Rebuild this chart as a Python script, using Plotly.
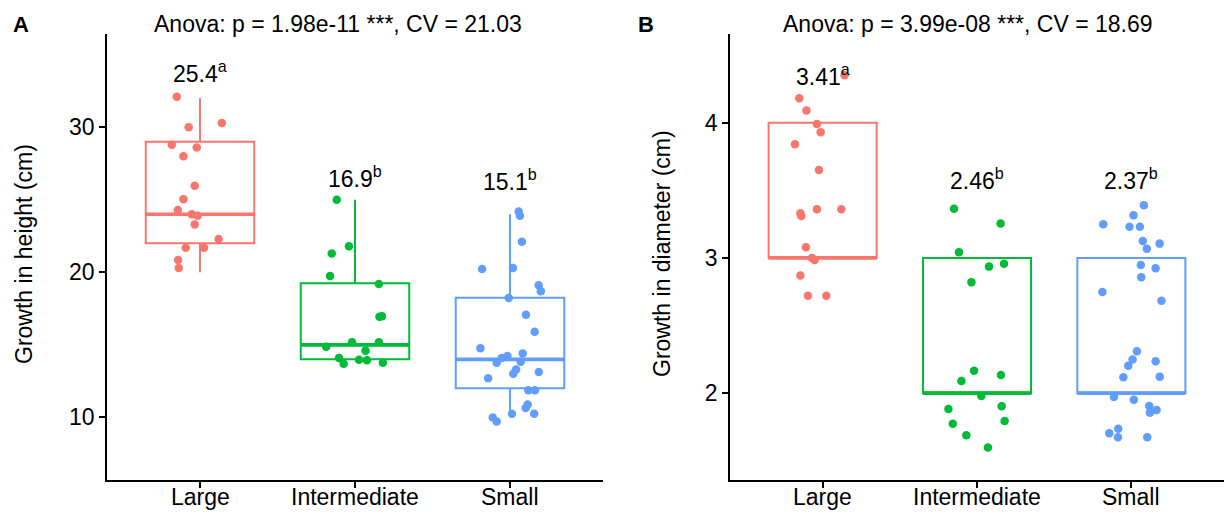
import plotly.graph_objects as go

# ---------------- data ----------------
categories = ["Large", "Intermediate", "Small"]

# Panel A: growth in height (cm), plotted (jittered) values
height_large = [32.1, 30.0, 30.3, 28.8, 28.6, 28.0, 25.96, 25.04, 24.3, 24.0, 23.9, 23.3, 22.3, 21.7, 21.7, 20.85, 20.3]
height_large_jit = [-0.15, -0.073, 0.141, -0.182, -0.021, -0.107, -0.034, -0.107, -0.143, -0.053, -0.015, -0.034, 0.12, -0.092, 0.026, -0.141, -0.137]
height_inter = [25.0, 21.8, 21.3, 19.75, 19.2, 16.93, 16.97, 14.87, 15.17, 15.17, 14.6, 14.1, 13.7, 13.97, 13.93, 13.77]
height_inter_jit = [-0.118, -0.039, -0.150, -0.161, 0.154, 0.158, 0.174, -0.186, -0.019, 0.154, 0.068, -0.103, -0.073, 0.026, 0.077, 0.18]
height_small = [24.19, 23.9, 22.1, 20.23, 20.3, 19.1, 18.7, 18.23, 17.07, 15.9, 14.76, 14.23, 14.1, 14.4, 13.77, 13.84, 13.3, 13.0, 13.13, 12.7, 11.87, 11.87, 10.88, 10.65, 10.24, 10.24, 9.99, 9.71]
height_small_jit = [0.056, 0.064, 0.077, -0.18, 0.019, 0.185, 0.199, -0.008, 0.103, 0.159, -0.191, -0.017, -0.053, 0.082, -0.086, 0.069, 0.039, 0.021, 0.186, -0.141, 0.118, 0.161, 0.114, 0.101, 0.013, 0.156, -0.111, -0.086]

# box statistics (lower whisker, q1, median, q3, upper whisker)
height_box = {
    "Large": [20, 22, 24, 29, 32],
    "Intermediate": [14, 14, 15, 19.25, 25],
    "Small": [10, 12, 14, 18.25, 24],
}
height_means = ["25.4", "16.9", "15.1"]
height_letters = ["a", "b", "b"]

# Panel B: growth in diameter (cm)
diam_large = [4.35, 4.18, 4.09, 3.99, 3.93, 3.84, 3.65, 3.33, 3.31, 3.36, 3.36, 3.08, 3.0, 2.985, 2.87, 2.72, 2.72]
diam_large_jit = [0.142, -0.151, -0.105, -0.037, -0.013, -0.179, -0.024, -0.144, -0.138, -0.037, 0.121, -0.108, -0.069, -0.052, -0.144, -0.095, 0.024]
diam_inter = [3.364, 3.254, 3.042, 2.936, 2.958, 2.82, 2.167, 2.09, 2.135, 1.98, 1.884, 1.904, 1.775, 1.795, 1.69, 1.60]
diam_inter_jit = [-0.149, 0.153, -0.117, 0.078, 0.175, -0.036, -0.019, -0.101, 0.155, 0.028, -0.185, 0.16, -0.157, 0.179, -0.069, 0.071]
diam_small = [3.39, 3.315, 3.25, 3.23, 3.23, 3.126, 3.106, 3.069, 2.948, 2.924, 2.857, 2.749, 2.684, 2.31, 2.25, 2.204, 2.236, 2.118, 2.123, 1.973, 1.953, 1.906, 1.877, 1.857, 1.738, 1.704, 1.675, 1.675]
diam_small_jit = [0.081, 0.014, -0.182, -0.012, 0.055, 0.074, 0.183, 0.1, 0.061, 0.157, 0.064, -0.188, 0.195, 0.036, 0.008, -0.02, 0.157, -0.052, 0.184, -0.113, 0.016, 0.116, 0.163, 0.12, -0.085, -0.143, -0.087, 0.103]

diam_box = {
    "Large": [3, 3, 3, 4, 4],
    "Intermediate": [2, 2, 2, 3, 3],
    "Small": [2, 2, 2, 3, 3],
}
diam_means = ["3.41", "2.46", "2.37"]
diam_letters = ["a", "b", "b"]

titles = ["Anova: p = 1.98e-11 ***, CV = 21.03", "Anova: p = 3.99e-08 ***, CV = 18.69"]
y_titles = ["Growth in height (cm)", "Growth in diameter (cm)"]

# ---------------- style ----------------
colors = ["#F8766D", "#00BA38", "#619CFF"]
FONT = "Liberation Sans, Arial, sans-serif"
FS = 23
BOX_W = 0.7
W, H = 1227, 515

fig = go.Figure()

panels = [
    ("x", "y", [height_large, height_inter, height_small],
     [height_large_jit, height_inter_jit, height_small_jit], height_box, height_means, height_letters),
    ("x2", "y2", [diam_large, diam_inter, diam_small],
     [diam_large_jit, diam_inter_jit, diam_small_jit], diam_box, diam_means, diam_letters),
]

label_pos = [[33.74, 26.48, 26.32], [4.345, 3.577, 3.577]]

for p, (xa, ya, vals, jits, box, means, letters) in enumerate(panels):
    for i, cat in enumerate(categories):
        pos = i + 1
        lo, q1, med, q3, hi = box[cat]
        fig.add_trace(go.Box(
            x=[pos], q1=[q1], median=[med], q3=[q3], lowerfence=[lo], upperfence=[hi],
            width=BOX_W, whiskerwidth=0, boxpoints=False,
            line=dict(color=colors[i], width=2), fillcolor="rgba(255,255,255,0)",
            xaxis=xa, yaxis=ya, showlegend=False, hoverinfo="skip",
        ))
        # thick median (ggplot fatten)
        fig.add_trace(go.Scatter(
            x=[pos - BOX_W / 2, pos + BOX_W / 2], y=[med, med], mode="lines",
            line=dict(color=colors[i], width=3.6), xaxis=xa, yaxis=ya,
            showlegend=False, hoverinfo="skip",
        ))
    for i, cat in enumerate(categories):
        pos = i + 1
        fig.add_trace(go.Scatter(
            x=[pos + j for j in jits[i]], y=vals[i], mode="markers",
            marker=dict(color=colors[i], size=8.5, line=dict(width=0)),
            xaxis=xa, yaxis=ya, showlegend=False,
        ))
        fig.add_annotation(
            x=pos, y=label_pos[p][i], xref=xa, yref=ya,
            text=f"{means[i]}<sup>{letters[i]}</sup>", showarrow=False,
            xanchor="center", yanchor="middle",
            font=dict(family=FONT, size=FS, color="black"), yshift=1,
        )
        # category tick label
        fig.add_annotation(
            x=pos, y=1 - 497 / H, xref=xa, yref="paper", text=cat, showarrow=False,
            xanchor="center", yanchor="middle",
            font=dict(family=FONT, size=FS, color="black"),
        )

axis_common = dict(
    showline=True, linecolor="black", linewidth=1.8, ticks="outside", ticklen=6,
    tickwidth=1.8, tickcolor="black", showgrid=False, zeroline=False,
    tickfont=dict(family=FONT, size=FS, color="black"),
)

ydom = [1 - 480 / H, 1 - 34.3 / H]
fig.update_layout(
    width=W, height=H, margin=dict(l=0, r=0, t=0, b=0),
    paper_bgcolor="white", plot_bgcolor="white",
    xaxis=dict(domain=[107 / W, 603 / W], range=[0.4, 3.6], tickvals=[1, 2, 3],
               showticklabels=False, anchor="y", **axis_common),
    yaxis=dict(domain=ydom, range=[5.68, 36.41], tickvals=[10, 20, 30],
               anchor="x", **axis_common),
    xaxis2=dict(domain=[730 / W, 1224 / W], range=[0.4, 3.6], tickvals=[1, 2, 3],
                showticklabels=False, anchor="y2", **axis_common),
    yaxis2=dict(domain=ydom, range=[1.359, 4.653], tickvals=[2, 3, 4],
                anchor="x2", **axis_common),
)

# titles, panel letters, y-axis titles
title_x = [337.5, 968]
letter_x = [20.5, 645.5]
ytitle_x = [24, 662]
for k in range(2):
    fig.add_annotation(x=title_x[k] / W, y=1 - 24 / H, xref="paper", yref="paper",
                       text=titles[k], showarrow=False, xanchor="center", yanchor="middle",
                       font=dict(family=FONT, size=FS, color="black"))
    fig.add_annotation(x=letter_x[k] / W, y=1 - 24 / H, xref="paper", yref="paper",
                       text=f"<b>{'AB'[k]}</b>", showarrow=False, xanchor="center", yanchor="middle",
                       font=dict(family=FONT, size=22, color="black"))
    fig.add_annotation(x=ytitle_x[k] / W, y=1 - 254 / H, xref="paper", yref="paper",
                       text=y_titles[k], showarrow=False, textangle=-90,
                       xanchor="center", yanchor="middle",
                       font=dict(family=FONT, size=FS, color="black"))

fig.write_html("out.html")
